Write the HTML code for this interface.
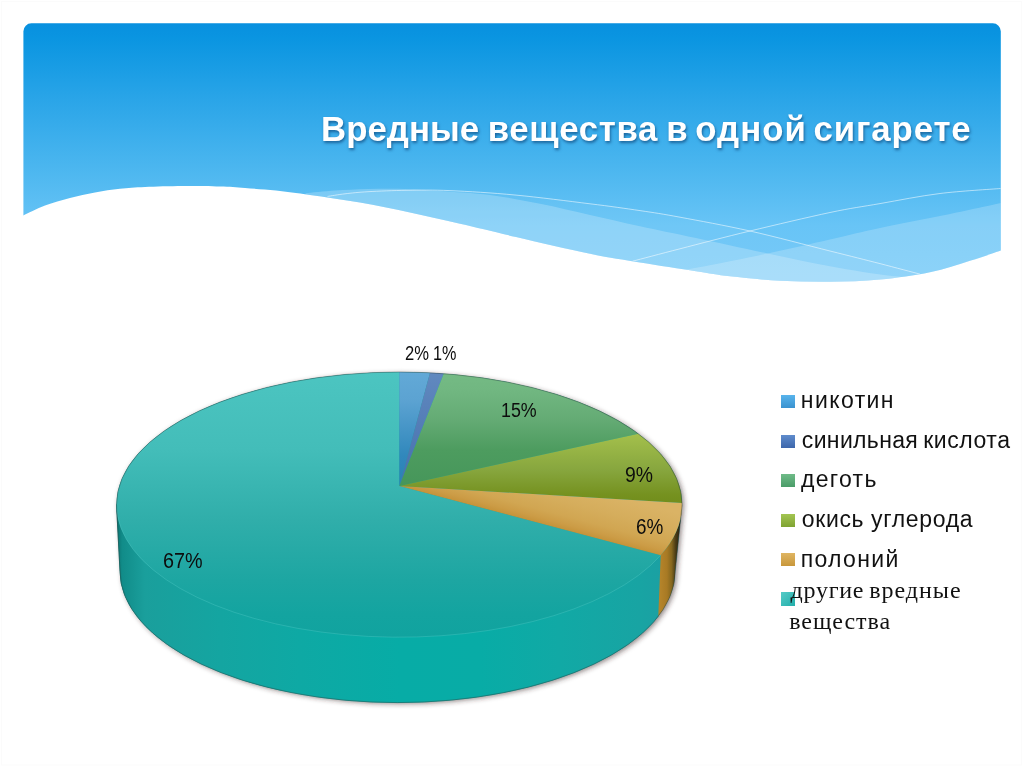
<!DOCTYPE html>
<html lang="ru">
<head>
<meta charset="utf-8">
<title>Вредные вещества в одной сигарете</title>
<style>
html,body{margin:0;padding:0;background:#fff;}
body{width:1024px;height:767px;position:relative;overflow:hidden;font-family:"Liberation Sans",sans-serif;}
svg{position:absolute;left:0;top:0;}
.title{position:absolute;left:321px;top:109px;width:660px;margin:0;font:bold 34.8px/40px "Liberation Sans",sans-serif;color:#fff;white-space:nowrap;text-shadow:1px 2px 3px rgba(0,40,90,.55);transform-origin:0 50%;}
.title span{position:absolute;top:0;}
.lbl{position:absolute;font:20.5px/20px "Liberation Sans",sans-serif;color:#0d0d0d;white-space:nowrap;transform-origin:0 50%;}
.legend{position:absolute;left:781px;top:0;margin:0;padding:0;list-style:none;}
.legend li{position:absolute;left:0;white-space:nowrap;font:23px/28px "Liberation Sans",sans-serif;color:#111;transform-origin:21px 50%;}
.legend i{position:absolute;left:.3px;top:8.5px;width:14px;height:13.4px;display:block;}
.legend span{position:absolute;left:21px;top:0;}
.legend li.serif span{font:24px/30.5px "Liberation Serif",serif;}
</style>
</head>
<body>
<svg width="1024" height="767" viewBox="0 0 1024 767">
<defs>
<linearGradient id="bg" x1="0" y1="23" x2="0" y2="283" gradientUnits="userSpaceOnUse">
<stop offset="0" stop-color="#0890df"/><stop offset="0.058" stop-color="#0a95e1"/><stop offset="0.296" stop-color="#2aa5e8"/><stop offset="0.585" stop-color="#4fb8f0"/><stop offset="0.777" stop-color="#68c4f6"/><stop offset="1" stop-color="#70c8f8"/>
</linearGradient>
<clipPath id="bclip"><path d="M31.4 23.3 H992.8 A8.0 8.0 0 0 1 1000.8 31.3 V250.6 C995.7 252.3 981.8 257.2 970.0 260.8 C958.2 264.4 945.0 269.2 930.0 272.3 C915.0 275.4 896.7 278.0 880.0 279.6 C863.3 281.2 846.7 281.6 830.0 281.8 C813.3 281.9 796.7 281.7 780.0 280.8 C763.3 279.8 744.0 277.8 730.0 276.2 C716.0 274.7 711.0 273.5 696.0 271.2 C681.0 269.0 657.7 265.4 640.0 262.5 C622.3 259.6 610.7 258.0 590.0 253.8 C569.3 249.5 537.7 242.0 516.0 237.0 C494.3 232.0 477.7 227.8 460.0 223.8 C442.3 219.7 426.7 216.0 410.0 212.5 C393.3 209.0 376.7 205.4 360.0 202.5 C343.3 199.6 324.0 197.0 310.0 195.0 C296.0 193.0 286.8 191.7 276.0 190.5 C265.2 189.3 254.3 188.7 245.0 188.0 C235.7 187.3 230.4 186.8 220.0 186.5 C209.6 186.2 195.0 185.9 182.5 186.0 C170.0 186.1 155.4 186.5 145.0 187.0 C134.6 187.5 128.3 187.8 120.0 188.8 C111.7 189.7 103.3 190.9 95.0 192.4 C86.7 193.9 78.3 195.8 70.0 198.0 C61.7 200.2 52.8 202.7 45.0 205.6 C37.2 208.5 27.0 213.8 23.4 215.5 V31.3 A8.0 8.0 0 0 1 31.4 23.3 Z"/></clipPath>
<linearGradient id="gTeal" x1="0" y1="372" x2="0" y2="637" gradientUnits="userSpaceOnUse">
<stop offset="0" stop-color="#4cc5c1"/><stop offset="0.068" stop-color="#4ac3bf"/><stop offset="0.294" stop-color="#43bdb9"/><stop offset="0.558" stop-color="#30aeaa"/><stop offset="0.785" stop-color="#1da6a2"/><stop offset="0.917" stop-color="#13a4a0"/><stop offset="1" stop-color="#11a39f"/>
</linearGradient>
<linearGradient id="gTealSide" x1="116" y1="0" x2="682" y2="0" gradientUnits="userSpaceOnUse">
<stop offset="0.000" stop-color="#0a6f6d"/><stop offset="0.011" stop-color="#118c89"/><stop offset="0.051" stop-color="#1a9f9c"/><stop offset="0.184" stop-color="#14a5a1"/><stop offset="0.325" stop-color="#0ea9a4"/><stop offset="0.502" stop-color="#07aca6"/><stop offset="0.643" stop-color="#08aca6"/><stop offset="0.784" stop-color="#11a9a5"/><stop offset="0.926" stop-color="#18a4a3"/><stop offset="0.965" stop-color="#1ba0a3"/>
</linearGradient>
<linearGradient id="gOrSide" x1="660" y1="0" x2="683" y2="0" gradientUnits="userSpaceOnUse">
<stop offset="0" stop-color="#b5842a"/><stop offset="0.3" stop-color="#a87a24"/><stop offset="0.5" stop-color="#86681f"/><stop offset="0.68" stop-color="#4a3c16"/><stop offset="0.85" stop-color="#2a2410"/><stop offset="1" stop-color="#1e1a0c"/>
</linearGradient>
<linearGradient id="gGreen" x1="0" y1="375" x2="0" y2="486" gradientUnits="userSpaceOnUse">
<stop offset="0.000" stop-color="#74ba84"/><stop offset="0.135" stop-color="#71b781"/><stop offset="0.405" stop-color="#64ab74"/><stop offset="0.676" stop-color="#4d9c5f"/><stop offset="1.000" stop-color="#46965a"/>
</linearGradient>
<linearGradient id="gOlive" x1="0" y1="435" x2="0" y2="505" gradientUnits="userSpaceOnUse">
<stop offset="0.000" stop-color="#a3bf4b"/><stop offset="0.500" stop-color="#87a63e"/><stop offset="0.857" stop-color="#75911f"/><stop offset="1.000" stop-color="#718d1c"/>
</linearGradient>
<linearGradient id="gOrange" x1="530" y1="520.6" x2="541.5" y2="477.1" gradientUnits="userSpaceOnUse">
<stop offset="0" stop-color="#c5933a"/><stop offset="0.12" stop-color="#cc9c46"/><stop offset="0.3" stop-color="#d1a652"/><stop offset="0.6" stop-color="#d5ad5c"/><stop offset="1" stop-color="#dab365"/>
</linearGradient>
<linearGradient id="gBlue" x1="0" y1="372" x2="0" y2="486" gradientUnits="userSpaceOnUse">
<stop offset="0.000" stop-color="#62a9d7"/><stop offset="0.246" stop-color="#5ca3d2"/><stop offset="0.728" stop-color="#3188bc"/><stop offset="1.000" stop-color="#2a80b5"/>
</linearGradient>
<linearGradient id="gDBlue" x1="0" y1="372" x2="0" y2="486" gradientUnits="userSpaceOnUse">
<stop offset="0.000" stop-color="#6189bf"/><stop offset="1.000" stop-color="#4570ad"/>
</linearGradient>
<filter id="blur" x="-10%" y="-10%" width="120%" height="120%"><feGaussianBlur stdDeviation="2.8"/></filter>
</defs>
<rect x="1.5" y="1.5" width="1020" height="763.5" fill="none" stroke="#fbfbfb" stroke-width="1"/>
<g clip-path="url(#bclip)">
<rect x="0" y="0" width="1024" height="320" fill="url(#bg)"/>
<path d="M327.5 196.4 C330.4 196.0 338.2 194.6 345.0 193.8 C351.8 193.0 357.7 192.3 368.0 191.7 C378.3 191.1 393.3 190.5 407.0 190.3 C420.7 190.1 432.0 189.8 450.0 190.6 C468.0 191.4 491.7 192.8 515.0 195.0 C538.3 197.2 569.2 201.2 590.0 203.8 C610.8 206.3 625.0 208.4 640.0 210.6 C655.0 212.8 661.7 213.8 680.0 217.2 C698.3 220.6 725.0 225.4 750.0 231.0 C775.0 236.6 808.3 245.6 830.0 251.0 C851.7 256.4 865.0 259.8 880.0 263.6 C895.0 267.5 913.3 272.4 920.0 274.1 L920.0 320 L327.5 320 Z" fill="#fff" fill-opacity="0.05"/>
<path d="M305.6 193.3 C310.5 192.9 324.6 191.3 335.0 190.6 C345.4 189.9 356.3 189.3 368.0 189.0 C379.7 188.7 393.0 188.6 405.0 188.9 C417.0 189.2 425.8 190.0 440.0 191.0 C454.2 192.0 473.3 192.9 490.0 195.0 C506.7 197.1 523.3 200.4 540.0 203.8 C556.7 207.1 573.3 211.2 590.0 215.0 C606.7 218.8 622.3 222.4 640.0 226.2 C657.7 230.1 674.8 233.5 696.0 238.0 C717.2 242.5 745.2 248.8 767.5 253.5 C789.8 258.2 809.2 262.5 830.0 266.2 C850.8 270.0 876.2 274.2 892.0 276.0 C907.8 277.8 919.5 276.8 925.0 277.0 L925.0 320 L305.6 320 Z" fill="#fff" fill-opacity="0.22"/>
<path d="M1000.8 202.9 C990.7 205.1 960.1 211.8 940.0 216.0 C919.9 220.2 898.3 224.1 880.0 228.0 C861.7 231.9 848.8 235.2 830.0 239.5 C811.2 243.8 788.3 249.0 767.5 253.5 C746.7 258.0 721.2 263.2 705.0 266.2 C688.8 269.3 675.8 271.0 670.0 272.0 L670.0 320 L1000.8 320 Z" fill="#fff" fill-opacity="0.20"/>
<path d="M327.5 196.4 C330.4 196.0 338.2 194.6 345.0 193.8 C351.8 193.0 357.7 192.3 368.0 191.7 C378.3 191.1 393.3 190.5 407.0 190.3 C420.7 190.1 432.0 189.8 450.0 190.6 C468.0 191.4 491.7 192.8 515.0 195.0 C538.3 197.2 569.2 201.2 590.0 203.8 C610.8 206.3 625.0 208.4 640.0 210.6 C655.0 212.8 661.7 213.8 680.0 217.2 C698.3 220.6 725.0 225.4 750.0 231.0 C775.0 236.6 808.3 245.6 830.0 251.0 C851.7 256.4 865.0 259.8 880.0 263.6 C895.0 267.5 913.3 272.4 920.0 274.1" fill="none" stroke="#fff" stroke-opacity="0.6" stroke-width="0.9"/>
<path d="M632.5 261.2 C640.4 259.2 660.4 253.8 680.0 248.8 C699.6 243.7 725.0 237.0 750.0 231.0 C775.0 225.0 808.3 217.1 830.0 212.5 C851.7 207.9 861.7 206.8 880.0 203.6 C898.3 200.4 919.9 196.0 940.0 193.5 C960.1 191.0 990.7 189.3 1000.8 188.5" fill="none" stroke="#fff" stroke-opacity="0.6" stroke-width="0.9"/>
</g>
<path d="M116.5 504.6 A282.8 132.6 0 0 1 682.1 504.6 L675.2 571.2 A277.6 131.4 0 0 1 120.0 571.2 Z" fill="#3a2a2a" fill-opacity="0.55" filter="url(#blur)" transform="translate(2,1.5)"/>
<path d="M116.5 504.6 A282.8 132.6 0 0 1 682.1 504.6 L675.2 571.2 A277.6 131.4 0 0 1 120.0 571.2 Z" fill="#16a3a0"/>
<path d="M660.7 555.2 A282.8 132.6 0 0 1 116.5 504.6 L120.0 571.2 A277.6 131.4 0 0 0 658.3 616.3 Z" fill="url(#gTealSide)" stroke="url(#gTealSide)" stroke-width="0.8"/>
<path d="M660.7 555.2 A282.8 132.6 0 0 0 682.1 504.6 L675.2 571.2 A277.6 131.4 0 0 1 658.3 616.3 Z" fill="url(#gOrSide)"/>
<path d="M399.4 486.0 L660.7 555.2 A282.8 132.6 0 1 1 399.3 372.0 Z" fill="url(#gTeal)"/>
<path d="M660.7 555.2 A282.8 132.6 0 0 1 116.5 504.6" fill="none" stroke="#6fdcd6" stroke-opacity="0.25" stroke-width="1"/>
<path d="M399.4 486.0 L399.3 372.0 A282.8 132.6 0 0 1 430.0 372.8 Z" fill="url(#gBlue)"/>
<path d="M399.4 486.0 L430.0 372.8 A282.8 132.6 0 0 1 443.8 373.6 Z" fill="url(#gDBlue)"/>
<path d="M399.4 486.0 L443.8 373.6 A282.8 132.6 0 0 1 638.4 433.8 Z" fill="url(#gGreen)"/>
<path d="M399.4 486.0 L638.4 433.8 A282.8 132.6 0 0 1 682.1 503.0 Z" fill="url(#gOlive)"/>
<path d="M399.4 486.0 L682.1 503.0 A282.8 132.6 0 0 1 660.7 555.2 Z" fill="url(#gOrange)"/>
<path d="M116.5 504.6 A282.8 132.6 0 0 1 682.1 504.6 L675.2 571.2 A277.6 131.4 0 0 1 120.0 571.2 Z" fill="none" stroke="#2c3a38" stroke-opacity="0.5" stroke-width="0.8"/>
</svg>
<h1 class="title" id="title"><span style="left:0.00px;letter-spacing:0.033px">Вредные</span> <span style="left:166.70px;letter-spacing:0.629px">вещества</span> <span style="left:345.30px;letter-spacing:0.000px">в</span> <span style="left:374.20px;letter-spacing:1.050px">одной</span> <span style="left:492.50px;letter-spacing:0.857px">сигарете</span></h1>
<div class="lbl" id="l2" style="left:405.0px;top:343.3px;font-size:20.5px;transform:scaleX(0.810)">2%</div>
<div class="lbl" id="l1" style="left:432.6px;top:343.3px;font-size:20.5px;transform:scaleX(0.790)">1%</div>
<div class="lbl" id="l15" style="left:501.0px;top:400.3px;font-size:20.5px;transform:scaleX(0.870)">15%</div>
<div class="lbl" id="l9" style="left:625.3px;top:464.5px;font-size:22.5px;transform:scaleX(0.860)">9%</div>
<div class="lbl" id="l6" style="left:635.7px;top:516.9px;font-size:22.5px;transform:scaleX(0.840)">6%</div>
<div class="lbl" id="l67" style="left:163.2px;top:550.5px;font-size:22.5px;transform:scaleX(0.880)">67%</div>
<ul class="legend">
<li class="" style="top:386.0px"><i style="background:linear-gradient(#58b4ec,#3a92cf);top:8.5px"></i><span style="left:19.86px;letter-spacing:1.407px">никотин</span></li>
<li class="" style="top:426.0px"><i style="background:linear-gradient(#5f8ccc,#3d66ab);top:8.5px"></i><span style="left:20.86px;letter-spacing:0.330px">синильная</span> <span style="left:142.28px;letter-spacing:0.540px">кислота</span></li>
<li class="" style="top:465.0px"><i style="background:linear-gradient(#6fbb88,#4a9c68);top:8.5px"></i><span style="left:20.00px;letter-spacing:1.300px">деготь</span></li>
<li class="" style="top:505.0px"><i style="background:linear-gradient(#a3c552,#7fa332);top:8.5px"></i><span style="left:20.86px;letter-spacing:0.640px">окись</span> <span style="left:90.00px;letter-spacing:0.680px">углерода</span></li>
<li class="" style="top:544.5px"><i style="background:linear-gradient(#dfb562,#c8973b);top:8.5px"></i><span style="left:19.74px;letter-spacing:1.323px">полоний</span></li>
<li class="serif" style="top:575.4px"><i style="background:linear-gradient(135deg,#55cbc7,#22aeaa);top:16.8px"></i><span style="left:9.56px;letter-spacing:0.732px">другие</span> <span style="left:88.16px;letter-spacing:0.993px">вредные</span></li>
<li class="serif" style="top:605.9px"><span style="left:8.16px;letter-spacing:0.940px">вещества</span></li>
</ul>
</body>
</html>
